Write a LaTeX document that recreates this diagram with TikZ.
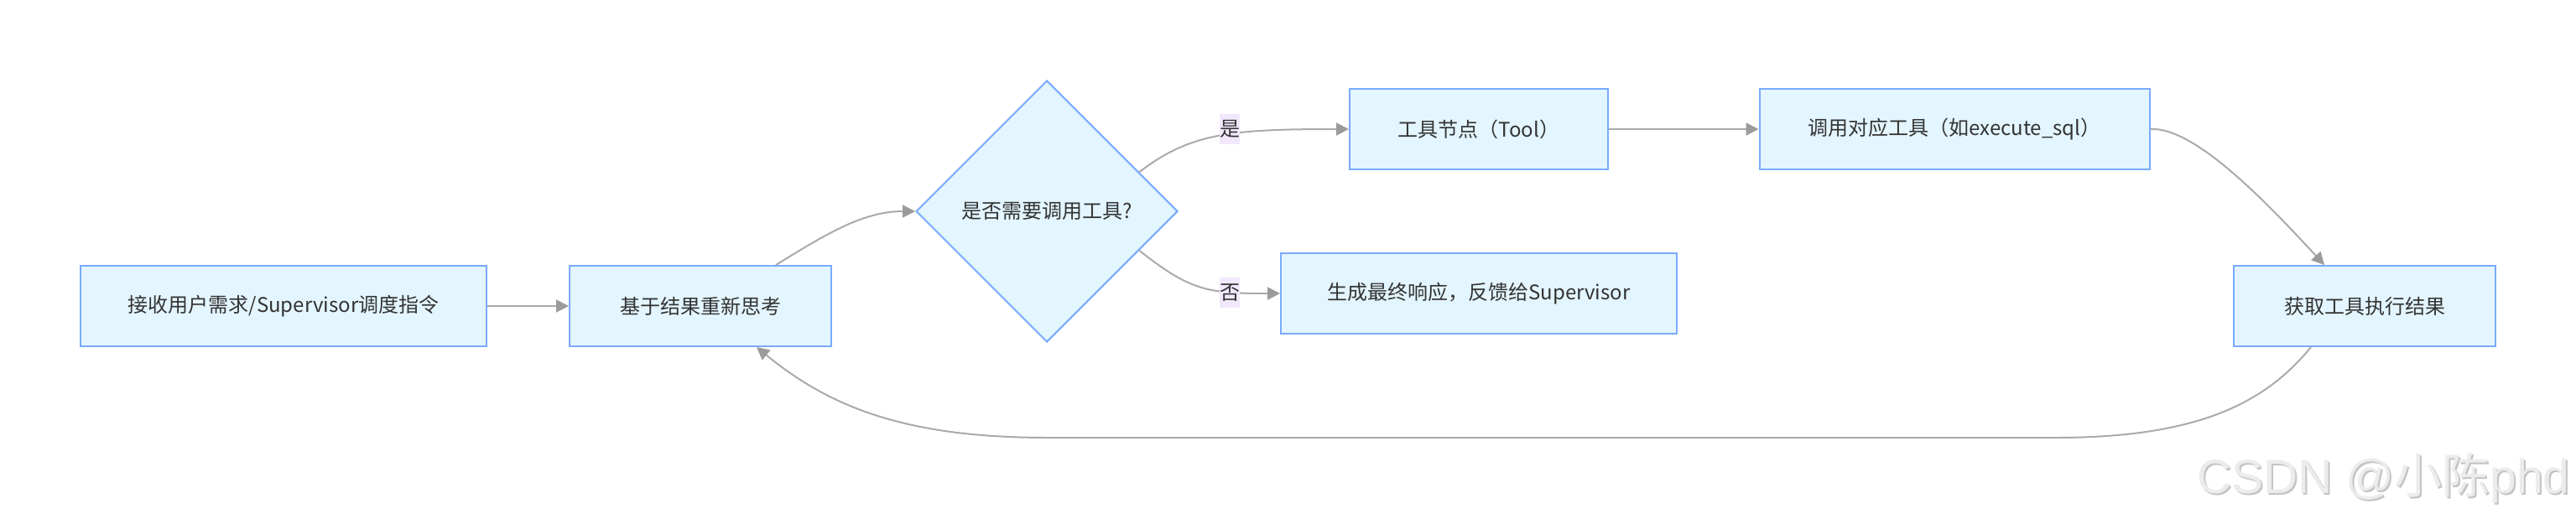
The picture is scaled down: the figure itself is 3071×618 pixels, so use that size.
\documentclass[tikz,border=0pt]{standalone}
\usepackage{fontspec}
\setmainfont{Noto Sans CJK SC}
\newfontfamily\cjk{Noto Sans CJK SC}
\newfontfamily\wmfont{Liberation Sans}
\usetikzlibrary{arrows.meta,shapes.geometric,calc}
\definecolor{boxfill}{RGB}{227,245,254}
\definecolor{boxline}{RGB}{122,170,255}
\definecolor{edgeline}{RGB}{170,170,170}
\definecolor{tipfill}{RGB}{155,155,155}
\definecolor{lblfill}{RGB}{241,232,253}
\definecolor{txt}{RGB}{51,51,51}
\definecolor{wm}{RGB}{236,236,236}
\definecolor{wmshade}{RGB}{196,196,196}

\begin{document}
\begin{tikzpicture}[x=0.5pt,y=-0.5pt,
    box/.style={draw=boxline,fill=boxfill,line width=1pt,minimum height=48pt,inner sep=0pt,text=txt,font=\fontsize{12}{14}\selectfont},
    choice/.style={diamond,draw=boxline,fill=boxfill,line width=1pt,minimum width=156pt,minimum height=156pt,inner sep=0pt,text=txt,font=\fontsize{12}{14}\selectfont},
    flow/.style={draw=edgeline,line width=1pt,-{Triangle[length=7.5pt,width=7.5pt,color=tipfill]}},
    lbl/.style={fill=lblfill,inner xsep=0pt,inner ysep=0pt,minimum height=18pt,text=txt,font=\fontsize{12}{14}\selectfont},
    wmark/.style={text=wm,font=\wmfont\fontsize{28.5}{30}\selectfont,inner sep=0pt}]
    \fill[white] (0,0) rectangle (3071,618);
    \useasboundingbox (0,0) rectangle (3071,618);
    % nodes
    \node[box,minimum width=242pt] (in) at (338,365) {接收用户需求/Supervisor调度指令};
    \node[box,minimum width=156pt] (think) at (835,365) {基于结果重新思考};
    \node[choice] (need) at (1248,252) {是否需要调用工具?};
    \node[box,minimum width=154pt] (tool) at (1763,154) {工具节点（Tool）};
    \node[box,minimum width=236pt] (final) at (1763,350) {生成最终响应，反馈给Supervisor};
    \node[box,minimum width=232.5pt] (call) at (2330,154) {调用对应工具（如execute\_sql）};
    \node[box,minimum width=156pt] (result) at (2819,365) {获取工具执行结果};
    \coordinate (loopr) at (2450,522);
    \coordinate (loopl) at (1250,522);
    % connectors
    \draw[flow] (in.east) -- (think.west);
    \draw[flow] ($(think.north)+(90,0)$) .. controls +(60,-37) and +(-62,0) .. (need.west);
    \draw[flow] (need.23) .. controls +(61,-47) and +(-139,0) .. (tool.west);
    \draw[flow] (need.-23) .. controls +(61,48) and +(-87,0) .. (final.west);
    \draw[flow] (tool.east) -- (call.west);
    \draw[flow] (call.east) .. controls +(52,-3) and +(-71,-77) .. ($(result.north)+(-48,0)$);
    \draw[flow] ($(result.south)+(-64,0)$) .. controls +(-55,67) and +(170,0) .. (loopr) -- (loopl) .. controls +(-170,0) and +(88,72) .. ($(think.south)+(67,0)$);
    % labels
    \node[lbl] (yes) at (1466,154) {是};
    \node[lbl] (no) at (1466,349) {否};
    \node[wmark,text=wmshade,anchor=base east] (markshade) at (3066,590) {CSDN @{\cjk 小陈}phd};
    \node[wmark,anchor=base east] (mark) at (3064,588) {CSDN @{\cjk 小陈}phd};
\end{tikzpicture}
\end{document}
